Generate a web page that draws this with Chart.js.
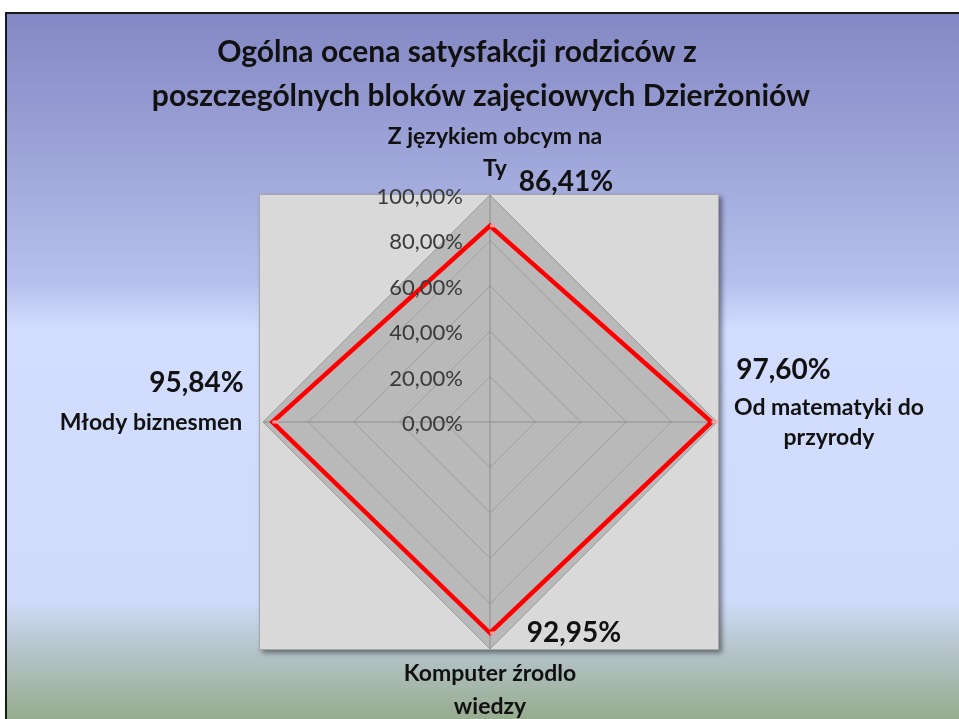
<!DOCTYPE html>
<html>
<head>
<meta charset="utf-8">
<script src="https://cdn.jsdelivr.net/npm/chart.js@4"></script>
<style>
  body { margin: 0; background: #fff; }
  #wrap { width: 959px; height: 719px; position: relative; }
</style>
</head>
<body>
<div id="wrap"><canvas id="radar"></canvas></div>
<script>
// dane z wykresu
const titleLines = ['Ogólna ocena satysfakcji rodziców z', 'poszczególnych bloków zajęciowych Dzierżoniów'];
const categories = [
  ['Z językiem obcym na', 'Ty'],
  ['Od matematyki do', 'przyrody'],
  ['Komputer źrodlo', 'wiedzy'],
  ['Młody biznesmen']
];
const values = [86.41, 97.60, 92.95, 95.84];
const valueLabels = ['86,41%', '97,60%', '92,95%', '95,84%'];
const tickLabels = ['0,00%', '20,00%', '40,00%', '60,00%', '80,00%', '100,00%'];

// przesunięcia etykiet względem wierzchołków (styl, nie dane)
const catPlacement = [
  { dx: 5, dy: -58, lh: 32 },
  { dx: 112, dy: -14, lh: 30 },
  { dx: 0, dy: 25, lh: 33 },
  { dx: -112, dy: 1, lh: 30 }
];
const valOffsets = [[76, -44], [72, -52], [84, 0], [-76, -39]];

const FONT = 'Lato, "Open Sans", sans-serif';

const decor = {
  id: 'decor',
  beforeDraw(chart) {
    const ctx = chart.ctx;
    const sc = chart.scales.r;
    const W = chart.width, H = chart.height;
    ctx.save();
    // tło slajdu
    ctx.fillStyle = '#fff';
    ctx.fillRect(0, 0, W, H);
    const g = ctx.createLinearGradient(0, 12, 0, H);
    g.addColorStop(0, '#8387c3');
    g.addColorStop(0.38, '#b6bfec');
    g.addColorStop(0.45, '#d2ddff');
    g.addColorStop(0.83, '#d0dbfb');
    g.addColorStop(0.9, '#b7c5cc');
    g.addColorStop(1, '#96ac8e');
    ctx.fillStyle = g;
    ctx.fillRect(6, 12, W - 6, H - 12);
    ctx.strokeStyle = '#1a1a1a';
    ctx.lineWidth = 2;
    ctx.beginPath();
    ctx.moveTo(6, H);
    ctx.lineTo(6, 13);
    ctx.lineTo(W, 13);
    ctx.stroke();

    // obszar kreślenia
    const r = sc.drawingArea;
    const x0 = sc.xCenter - r - 4, y0 = sc.yCenter - r - 1;
    ctx.shadowColor = 'rgba(0,0,0,0.45)';
    ctx.shadowBlur = 5;
    ctx.shadowOffsetX = 3;
    ctx.shadowOffsetY = 3;
    ctx.fillStyle = '#d9d9d9';
    ctx.fillRect(x0, y0, 2 * r + 6, 2 * r + 2);
    ctx.shadowColor = 'transparent';
    ctx.strokeStyle = '#a6a6a6';
    ctx.lineWidth = 1;
    ctx.strokeRect(x0 + 0.5, y0 + 0.5, 2 * r + 5, 2 * r + 1);

    // tytuł
    ctx.fillStyle = '#111';
    ctx.font = 'bold 30px ' + FONT;
    ctx.textAlign = 'center';
    ctx.textBaseline = 'middle';
    ctx.fillText(titleLines[0], 457, 52);
    ctx.fillText(titleLines[1], 481, 96);
    ctx.restore();
  },
  afterDatasetsDraw(chart) {
    const ctx = chart.ctx;
    const sc = chart.scales.r;
    ctx.save();
    ctx.textBaseline = 'middle';

    // etykiety osi radialnej, po lewej stronie osi pionowej
    ctx.fillStyle = '#3a3a3a';
    ctx.font = '22px ' + FONT;
    ctx.textAlign = 'right';
    sc.ticks.forEach((t, i) => {
      const y = sc.yCenter - sc.getDistanceFromCenterForValue(t.value);
      ctx.fillText(tickLabels[i], sc.xCenter - 27, y + 2);
    });

    // nazwy kategorii
    ctx.fillStyle = '#111';
    ctx.font = 'bold 23px ' + FONT;
    ctx.textAlign = 'center';
    categories.forEach((lines, i) => {
      const p = sc.getPointPosition(i, sc.drawingArea);
      const c = catPlacement[i];
      lines.forEach((ln, k) => {
        ctx.fillText(ln, p.x + c.dx, p.y + c.dy + k * c.lh);
      });
    });

    // wartości
    ctx.font = 'bold 28px ' + FONT;
    const meta = chart.getDatasetMeta(0);
    meta.data.forEach((pt, i) => {
      ctx.fillText(valueLabels[i], pt.x + valOffsets[i][0], pt.y + valOffsets[i][1]);
    });
    ctx.restore();
  }
};

new Chart(document.getElementById('radar'), {
  type: 'radar',
  data: {
    labels: categories,
    datasets: [{
      data: values,
      borderColor: '#ff0000',
      borderWidth: 4.5,
      fill: false,
      pointStyle: 'dash',
      pointRadius: 6,
      pointBorderWidth: 3,
      pointBorderColor: '#f2a0a0',
      pointBackgroundColor: '#f2a0a0',
      tension: 0
    }]
  },
  options: {
    responsive: true,
    maintainAspectRatio: false,
    animation: false,
    layout: { padding: { left: 263, right: 242, top: 195, bottom: 70 } },
    plugins: { legend: { display: false }, tooltip: { enabled: false } },
    scales: {
      r: {
        min: 0,
        max: 100,
        backgroundColor: '#b9b9b9',
        ticks: { stepSize: 20, display: false },
        pointLabels: { display: false },
        grid: { circular: false, color: '#9c9c9c', lineWidth: 1 },
        angleLines: { display: true, color: '#8e8e8e', lineWidth: 1 }
      }
    }
  },
  plugins: [decor]
});
</script>
</body>
</html>
